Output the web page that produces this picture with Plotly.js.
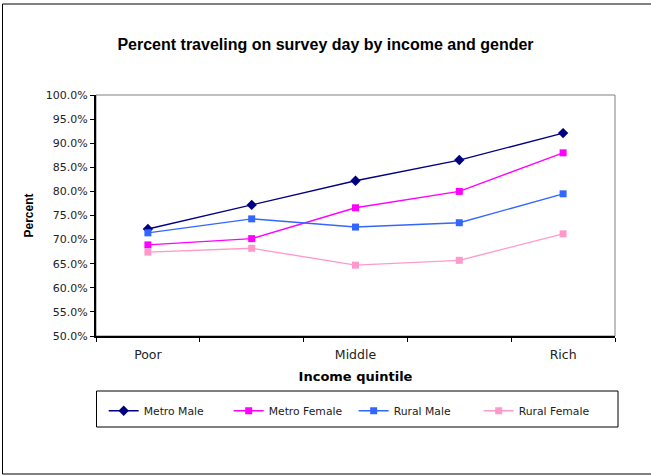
<!DOCTYPE html>
<html>
<head>
<meta charset="utf-8">
<script src="https://cdn.plot.ly/plotly-3.0.1.min.js"></script>
<style>
  html, body { margin: 0; padding: 0; background: #ffffff; }
  #chart { width: 651px; height: 475px; }
</style>
</head>
<body>
<div id="chart"></div>
<script>
// Income quintiles along the x axis
const quintiles = ['Poor', 'Second', 'Middle', 'Fourth', 'Rich'];
const quintileLabels = ['Poor', '', 'Middle', '', 'Rich'];

// Share of people who travelled on the survey day
const metroMale   = [0.722, 0.772, 0.822, 0.865, 0.921];
const metroFemale = [0.689, 0.702, 0.766, 0.800, 0.880];
const ruralMale   = [0.714, 0.743, 0.726, 0.735, 0.795];
const ruralFemale = [0.674, 0.682, 0.647, 0.657, 0.712];

const seriesNames = ['Metro Male', 'Metro Female', 'Rural Male', 'Rural Female'];
const seriesColors = ['#000080', '#FF00FF', '#3366FF', '#FF99CC'];
const seriesSymbols = ['diamond', 'square', 'square', 'square'];
const seriesValues = [metroMale, metroFemale, ruralMale, ruralFemale];

const traces = seriesValues.map((vals, i) => ({
  type: 'scatter',
  mode: 'lines+markers',
  name: seriesNames[i],
  x: quintiles,
  y: vals,
  line: { color: seriesColors[i], width: 1.4 },
  marker: { color: seriesColors[i], symbol: seriesSymbols[i], size: seriesSymbols[i] === 'diamond' ? 8 : 7 }
}));

const layout = {
  width: 651,
  height: 475,
  margin: { l: 96, r: 36, t: 95, b: 139, autoexpand: false },
  paper_bgcolor: '#ffffff',
  plot_bgcolor: '#ffffff',
  font: { family: 'DejaVu Sans, Verdana, sans-serif', size: 10, color: '#222222' },
  title: {
    text: 'Percent traveling on survey day by income and gender',
    font: { family: 'Liberation Sans, Arial, sans-serif', size: 16, color: '#000000', weight: 'bold' },
    x: 0.5, xanchor: 'center', xref: 'container',
    y: 1 - 44 / 475, yanchor: 'middle', yref: 'container'
  },
  xaxis: {
    type: 'category',
    range: [-0.5, 4.5],
    tickmode: 'array',
    tickvals: quintiles,
    ticktext: quintileLabels,
    tickson: 'boundaries',
    ticks: 'outside',
    ticklen: 4,
    tickcolor: '#000000',
    tickwidth: 1,
    ticklabelstandoff: 6,
    showgrid: false,
    zeroline: false,
    showline: true,
    linecolor: '#000000',
    linewidth: 2,
    tickfont: { size: 12.5, color: '#222222' },
    title: {
      text: 'Income quintile',
      font: { family: 'DejaVu Sans, Verdana, sans-serif', size: 13, color: '#000000', weight: 'bold' },
      standoff: 11
    },
    fixedrange: true
  },
  yaxis: {
    range: [0.5, 1.0],
    tickmode: 'linear',
    tick0: 0.5,
    dtick: 0.05,
    tickformat: '.1%',
    ticks: 'outside',
    ticklen: 4,
    tickcolor: '#000000',
    tickwidth: 1,
    showgrid: false,
    zeroline: false,
    showline: true,
    linecolor: '#000000',
    linewidth: 2,
    tickfont: { size: 11, color: '#222222' },
    title: {
      text: 'Percent',
      font: { family: 'Liberation Sans, Arial, sans-serif', size: 12, color: '#000000', weight: 'bold' },
      standoff: 10
    },
    fixedrange: true
  },
  showlegend: true,
  legend: {
    orientation: 'h',
    x: 0.0148,
    xanchor: 'left',
    y: -0.31,
    yanchor: 'middle',
    entrywidth: 80,
    bgcolor: 'rgba(0,0,0,0)',
    borderwidth: 0,
    font: { family: 'DejaVu Sans, Verdana, sans-serif', size: 10.8, color: '#222222' }
  },
  shapes: [
    // plot area frame (top and right edges)
    { type: 'rect', xref: 'paper', yref: 'paper', x0: 0, x1: 1, y0: 0, y1: 1,
      line: { color: '#808080', width: 1 }, layer: 'below' },
    // legend box
    { type: 'rect', xref: 'paper', yref: 'paper',
      x0: (96.5 - 96) / 519, x1: (618 - 96) / 519,
      y0: (336 - 427) / 241, y1: (336 - 391) / 241,
      line: { color: '#000000', width: 1 } },
    // chart area frame
    { type: 'rect', xref: 'paper', yref: 'paper',
      x0: (2.5 - 96) / 519, x1: (655 - 96) / 519,
      y0: (336 - 474) / 241, y1: (336 - 4) / 241,
      line: { color: '#000000', width: 1 } }
  ]
};

Plotly.newPlot('chart', traces, layout, { displayModeBar: false, staticPlot: true });
</script>
</body>
</html>
